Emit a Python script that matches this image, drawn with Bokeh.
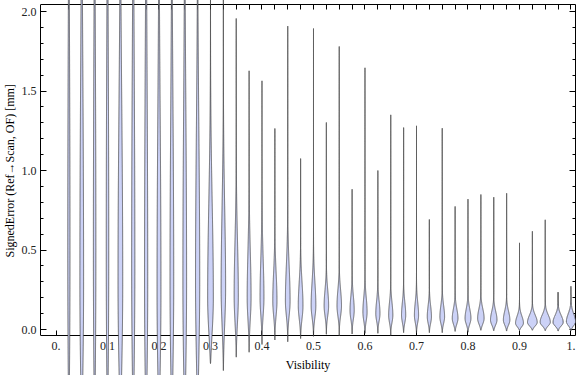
import numpy as np
from bokeh.plotting import figure
from bokeh.models import ColumnDataSource, Range1d, LinearAxis, FixedTicker, Title
from bokeh.embed import file_html
from bokeh.resources import INLINE

# ---------------- data ----------------
visibility = [0.025, 0.05, 0.075, 0.1, 0.125, 0.15, 0.175, 0.2, 0.225, 0.25,
              0.275, 0.3, 0.325, 0.35, 0.375, 0.4, 0.425, 0.45, 0.475, 0.5,
              0.525, 0.55, 0.575, 0.6, 0.625, 0.65, 0.675, 0.7, 0.725, 0.75,
              0.775, 0.8, 0.825, 0.85, 0.875, 0.9, 0.925, 0.95, 0.975, 1.0]
err_min = [-0.5, -0.5, -0.5, -0.5, -0.5, -0.5, -0.5, -0.5, -0.5, -0.5,
           -0.5, -0.214, -0.258, -0.174, -0.143, -0.094, -0.066, -0.077, -0.057, -0.043,
           -0.03, -0.04, -0.028, -0.024, -0.024, -0.038, -0.02, -0.02, -0.02, -0.02,
           -0.012, -0.017, -0.005, -0.008, -0.01, -0.005, -0.005, -0.008, -0.01, -0.008]
err_max = [3.0, 3.0, 3.0, 3.0, 3.0, 3.0, 3.0, 3.0, 3.0, 3.0,
           3.0, 3.0, 3.0, 1.956, 1.627, 1.564, 1.264, 1.908, 1.075, 1.893,
           1.302, 1.78, 0.882, 1.646, 1.0, 1.35, 1.27, 1.281, 0.692, 1.266,
           0.774, 0.82, 0.849, 0.832, 0.857, 0.545, 0.618, 0.69, 0.235, 0.272]
err_mode = [0.5, 0.3, 0.5, 0.5, 0.3, 0.4, 0.3, 0.25, 0.3, 0.3,
            0.3, 0.2, 0.26, 0.21, 0.2, 0.2, 0.18, 0.18, 0.15, 0.15,
            0.15, 0.15, 0.12, 0.11, 0.10, 0.09, 0.09, 0.09, 0.08, 0.08,
            0.07, 0.07, 0.07, 0.06, 0.06, 0.04, 0.045, 0.046, 0.045, 0.05]
peak_density = [2.2, 3.7, 2.5, 2.5, 4.7, 3.2, 3.2, 3.9, 3.7, 3.7,
                4.2, 5.7, 4.5, 4.2, 3.9, 3.9, 4.2, 4.7, 4.7, 4.7,
                4.5, 4.5, 4.2, 4.2, 4.2, 4.2, 4.2, 4.2, 4.2, 4.7,
                5.7, 5.9, 6.5, 6.5, 6.5, 7.9, 9.7, 10.2, 10.2, 9.2]
spread_below = [1.5, 1.0, 1.5, 1.5, 0.8, 1.0, 1.0, 0.8, 0.8, 0.8,
                0.6, 0.25, 0.25, 0.18, 0.15, 0.12, 0.1, 0.1, 0.09, 0.08,
                0.07, 0.07, 0.06, 0.06, 0.05, 0.05, 0.05, 0.05, 0.045, 0.045,
                0.04, 0.04, 0.04, 0.035, 0.035, 0.025, 0.025, 0.025, 0.025, 0.028]
spread_above = [1.5, 1.5, 1.5, 1.5, 1.2, 1.5, 1.5, 1.2, 1.2, 1.2,
                1.0, 0.6, 0.5, 0.35, 0.3, 0.25, 0.18, 0.22, 0.15, 0.15,
                0.1, 0.1, 0.09, 0.09, 0.08, 0.08, 0.08, 0.08, 0.07, 0.07,
                0.06, 0.06, 0.06, 0.055, 0.055, 0.045, 0.045, 0.045, 0.045, 0.05]

x_tick_values = [0.0, 0.1, 0.2, 0.3, 0.4, 0.5, 0.6, 0.7, 0.8, 0.9, 1.0]
x_tick_labels = ["0.", "0.1", "0.2", "0.3", "0.4", "0.5", "0.6", "0.7", "0.8", "0.9", "1."]
y_tick_values = [0.0, 0.5, 1.0, 1.5, 2.0]
y_tick_labels = ["0.0", "0.5", "1.0", "1.5", "2.0"]
y_minor_values = [0.1, 0.2, 0.3, 0.4, 0.6, 0.7, 0.8, 0.9, 1.1, 1.2, 1.3, 1.4,
                  1.6, 1.7, 1.8, 1.9]
x_title = "Visibility"
y_title = "SignedError (Ref\u2192Scan, OF) [mm]"

# ---------------- layout / style ----------------
X_START, X_END = -0.0301, 1.0107
Y_START, Y_END = -0.2893, 2.0692
FRAME_BOTTOM = -0.0377
FRAME_TOP = 2.0409
FRAME_RIGHT = 1.0087
Y_TITLE_OFFSET = 118
HALF_WIDTH_PER_DENSITY = 0.5 / 515.0
FONT = "Liberation Serif"
FILL = "#CCD2F7"

xs, ys = [], []
for x0, lo, hi, m, d, sl, sh in zip(visibility, err_min, err_max, err_mode,
                                    peak_density, spread_below, spread_above):
    y = np.linspace(lo, hi, 900)
    s = np.where(y < m, sl, sh)
    w = d * HALF_WIDTH_PER_DENSITY * np.exp(-0.5 * ((y - m) / s) ** 2)
    edge = np.where(y < m, (m - y) / (m - lo), (y - m) / (hi - m))
    w = w * np.sqrt(np.clip(1.0 - edge ** 2, 0.0, 1.0))
    xs.append(np.concatenate([x0 - w, (x0 + w)[::-1]]))
    ys.append(np.concatenate([y, y[::-1]]))

src = ColumnDataSource(dict(xs=xs, ys=ys))

p = figure(width=576, height=375,
           x_range=Range1d(X_START, X_END), y_range=Range1d(Y_START, Y_END),
           output_backend="svg", toolbar_location=None,
           x_axis_location=None, y_axis_location=None,
           min_border_left=40, min_border_right=0, min_border_top=0, min_border_bottom=0)
p.outline_line_color = None
p.xgrid.visible = False
p.ygrid.visible = False
p.background_fill_color = "white"
p.border_fill_color = "white"


def style_axis(ax, tick_in, minor_in):
    ax.axis_line_color = "black"
    ax.axis_line_width = 1
    ax.major_tick_line_color = "black"
    ax.minor_tick_line_color = "black"
    ax.major_tick_in = tick_in
    ax.major_tick_out = 0
    ax.minor_tick_in = minor_in
    ax.minor_tick_out = 0
    ax.major_label_text_font = FONT
    ax.major_label_text_font_size = "12px"
    ax.major_label_text_color = "#222222"
    ax.axis_label_text_font = FONT
    ax.axis_label_text_font_size = "12px"
    ax.axis_label_text_font_style = "normal"
    ax.axis_label_text_color = "black"


y_ticker = FixedTicker(ticks=y_tick_values, minor_ticks=y_minor_values)

left = LinearAxis(ticker=y_ticker, bounds=(FRAME_BOTTOM, FRAME_TOP))
style_axis(left, 6, 3)
left.major_label_overrides = {v: t for v, t in zip(y_tick_values, y_tick_labels)}
left.major_label_standoff = 4
p.add_layout(left, "left")

p.add_layout(Title(text=y_title, align="left", offset=Y_TITLE_OFFSET,
                   vertical_align="middle", standoff=2,
                   text_font=FONT, text_font_size="12px", text_font_style="normal",
                   text_color="black"), "left")

right = LinearAxis(ticker=y_ticker, bounds=(FRAME_BOTTOM, FRAME_TOP),
                   fixed_location=FRAME_RIGHT)
style_axis(right, 6, 3)
right.major_label_overrides = {v: "" for v in y_tick_values}
p.add_layout(right, "right")

bottom = LinearAxis(ticker=FixedTicker(ticks=x_tick_values, minor_ticks=[]),
                    bounds=(X_START, FRAME_RIGHT), fixed_location=FRAME_BOTTOM,
                    axis_label=x_title)
style_axis(bottom, 5, 0)
bottom.major_label_overrides = {v: t for v, t in zip(x_tick_values, x_tick_labels)}
bottom.major_label_standoff = 7
bottom.axis_label_standoff = 4
p.add_layout(bottom, "below")

top = LinearAxis(ticker=FixedTicker(ticks=visibility, minor_ticks=[]),
                 bounds=(X_START, FRAME_RIGHT), fixed_location=FRAME_TOP)
style_axis(top, 5, 0)
top.major_label_overrides = {v: "" for v in visibility}
p.add_layout(top, "above")

p.patches("xs", "ys", source=src, fill_color=FILL, fill_alpha=1.0,
          line_color="#3c3c3c", line_alpha=0.75, line_width=1, level="annotation")

open("out.html", "w").write(file_html(p, INLINE))
